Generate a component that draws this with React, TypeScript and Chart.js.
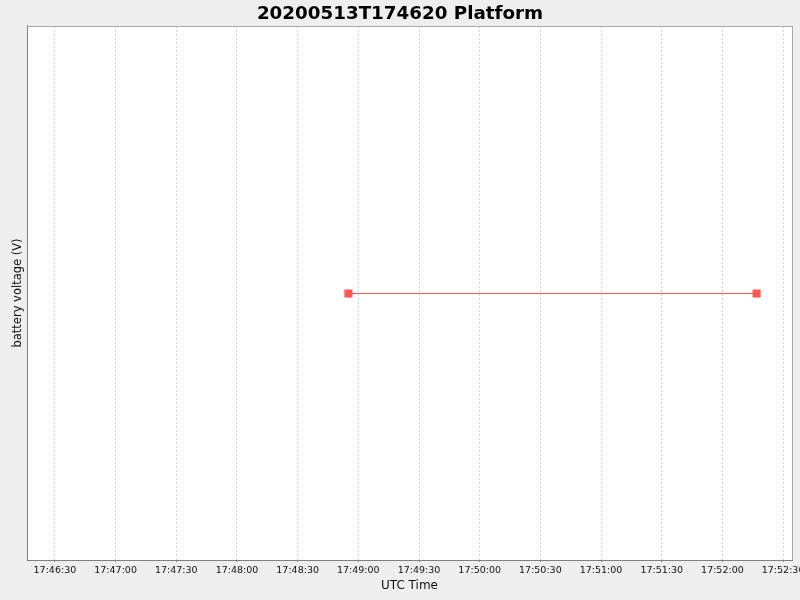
import React, { useEffect, useRef } from 'react';
import Chart from 'chart.js/auto';

const chartTitle = '20200513T174620 Platform';
const xAxisTitle = 'UTC Time';
const yAxisTitle = 'battery voltage (V)';

// samples (UTC time of day) and their battery voltage
const sampleTimes = ['17:48:55.1', '17:52:16.9'];
const batteryVoltage = [12.6, 12.6];

// axis ticks and visible range
const tickTimes = [
  '17:46:30', '17:47:00', '17:47:30', '17:48:00', '17:48:30', '17:49:00', '17:49:30',
  '17:50:00', '17:50:30', '17:51:00', '17:51:30', '17:52:00', '17:52:30',
];
const xRange = ['17:46:16.2', '17:52:34.4'];
const yRange = [12.101, 13.101];

const toSeconds = (t: string): number => {
  const [h, m, s] = t.split(':').map(Number);
  return h * 3600 + m * 60 + s;
};

const formatTime = (v: number): string => {
  const total = Math.round(v);
  const h = Math.floor(total / 3600);
  const m = Math.floor((total % 3600) / 60);
  const s = total % 60;
  const pad = (n: number) => String(n).padStart(2, '0');
  return `${pad(h)}:${pad(m)}:${pad(s)}`;
};

const FONT = "'DejaVu Sans', sans-serif";

// grey page, white plot area, thin outline on top/right
const plotFrame = {
  id: 'plotFrame',
  beforeDraw(chart: any) {
    const { ctx, chartArea } = chart;
    const { left, top, right, bottom } = chartArea;
    ctx.save();
    ctx.fillStyle = '#EEEEEE';
    ctx.fillRect(0, 0, chart.width, chart.height);
    ctx.fillStyle = '#FFFFFF';
    ctx.fillRect(left, top, right - left, bottom - top);
    ctx.restore();
  },
  beforeDatasetsDraw(chart: any) {
    const { ctx, chartArea } = chart;
    const { left, top, right, bottom } = chartArea;
    ctx.save();
    ctx.strokeStyle = '#A8A8A8';
    ctx.lineWidth = 1;
    ctx.beginPath();
    ctx.moveTo(left, Math.round(top) + 0.5);
    ctx.lineTo(right, Math.round(top) + 0.5);
    ctx.moveTo(Math.round(right) + 0.5, top);
    ctx.lineTo(Math.round(right) + 0.5, bottom);
    ctx.stroke();
    ctx.restore();
  },
};

const BatteryChart: React.FC = () => {
  const canvasRef = useRef<HTMLCanvasElement>(null);
  const chartInstance = useRef<Chart | null>(null);

  useEffect(() => {
    if (!canvasRef.current) return;
    const ctx = canvasRef.current.getContext('2d');
    if (!ctx) return;

    const points = sampleTimes.map((t, i) => ({ x: toSeconds(t), y: batteryVoltage[i] }));

    chartInstance.current = new Chart(ctx, {
      type: 'line',
      data: {
        datasets: [
          {
            label: 'battery voltage',
            data: points,
            borderColor: '#FF5555',
            backgroundColor: '#FF5555',
            borderWidth: 1,
            pointStyle: 'rect',
            pointRadius: 5.7,
            pointBorderWidth: 0,
            pointBackgroundColor: '#FF5555',
            tension: 0,
          },
        ],
      },
      options: {
        responsive: false,
        animation: false,
        events: [],
        layout: { padding: 0 },
        plugins: {
          legend: { display: false },
          tooltip: { enabled: false },
          title: {
            display: true,
            text: chartTitle,
            color: '#000000',
            font: { family: FONT, size: 18.3, weight: 'bold', lineHeight: 1.2 },
            padding: { top: 2.8, bottom: 1.2 },
          },
        },
        scales: {
          x: {
            type: 'linear',
            min: toSeconds(xRange[0]),
            max: toSeconds(xRange[1]),
            afterBuildTicks: (scale: any) => {
              scale.ticks = tickTimes.map(t => ({ value: toSeconds(t) }));
            },
            afterFit: (scale: any) => {
              scale.height = 40;
              scale.paddingLeft = 0;
              scale.paddingRight = 8;
            },
            ticks: {
              autoSkip: false,
              maxRotation: 0,
              minRotation: 0,
              padding: 3,
              color: '#111111',
              font: { family: FONT, size: 9.5 },
              callback: (value: any) => formatTime(Number(value)),
            },
            grid: {
              color: '#D2D2D2',
              lineWidth: 1,
              drawTicks: true,
              tickLength: 2,
              tickColor: '#808080',
              tickBorderDash: [],
            },
            border: { display: true, color: '#808080', width: 1, dash: [2, 2] },
            title: {
              display: true,
              text: xAxisTitle,
              color: '#111111',
              font: { family: FONT, size: 12 },
              padding: { top: 0, bottom: 7 },
            },
          },
          y: {
            type: 'linear',
            min: yRange[0],
            max: yRange[1],
            afterFit: (scale: any) => {
              scale.width = 27;
            },
            ticks: { display: false },
            grid: { display: false, drawTicks: false },
            border: { display: true, color: '#808080', width: 1 },
            title: {
              display: true,
              text: yAxisTitle,
              color: '#111111',
              font: { family: FONT, size: 11.5 },
              padding: { top: 11, bottom: 0 },
            },
          },
        },
      },
      plugins: [plotFrame],
    });

    return () => {
      if (chartInstance.current) {
        chartInstance.current.destroy();
        chartInstance.current = null;
      }
    };
  }, []);

  return <canvas ref={canvasRef} width={800} height={600} />;
};

export default function App() {
  return (
    <div style={{ position: 'fixed', left: 0, top: 0, width: 800, height: 600, background: '#EEEEEE' }}>
      <BatteryChart />
    </div>
  );
}
